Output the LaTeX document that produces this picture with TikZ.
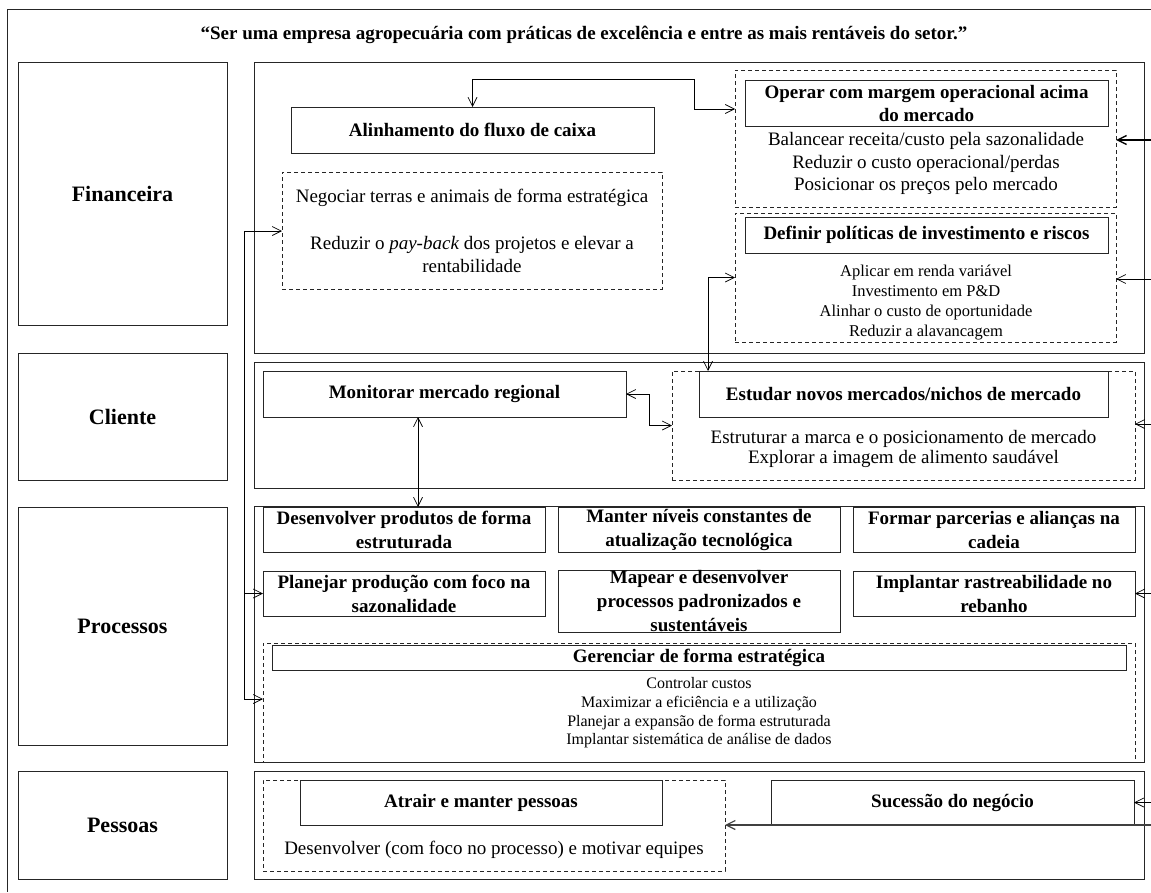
\documentclass[tikz,border=0pt]{standalone}
\usepackage{fontspec}
\setmainfont{Liberation Serif}
\usetikzlibrary{arrows.meta}
\tikzset{every node/.style={inner sep=0pt,outer sep=0pt}}
\tikzset{lbl/.style={rectangle,draw=black!85,line width=0.8pt,minimum width=209pt,font=\fontsize{22}{26}\selectfont\bfseries}}
\tikzset{pan/.style={rectangle,draw=black!85,line width=0.8pt,minimum width=890pt}}
\tikzset{bx/.style={rectangle,draw=black!85,line width=0.8pt,align=center,font=\fontsize{19}{24}\selectfont\bfseries}}
\tikzset{grp/.style={rectangle,draw=black!85,line width=0.7pt,dash pattern=on 4pt off 3pt}}
\tikzset{txt/.style={align=center,font=\fontsize{19}{22.5}\selectfont}}
\tikzset{sml/.style={align=center,font=\fontsize{16.5}{20}\selectfont}}

\begin{document}
\begin{tikzpicture}[x=1pt,y=-1pt,>={Straight Barb[length=9pt,width=9pt]},line width=0.7pt]
      \useasboundingbox (0,0) rectangle (1151,892);
      \draw[black!85,line width=0.8pt] (1151,9) -- (7,9) -- (7,892);
      \node[font=\fontsize{19}{23}\selectfont\bfseries] (vis) at (584,35) {“Ser uma empresa agropecuária com práticas de excelência e entre as mais rentáveis do setor.”};

      \node[lbl,minimum height=263pt] (fin) at (122.5,193.5) {Financeira};
      \node[lbl,minimum height=127pt] (cli) at (122.5,416.5) {Cliente};
      \node[lbl,minimum height=238pt] (pro) at (122.5,626) {Processos};
      \node[lbl,minimum height=108pt] (pes) at (122.5,825) {Pessoas};

      \node[pan,minimum height=291pt] (pfin) at (699,207.5) {};
      \node[pan,minimum height=126pt] (pcli) at (699,425) {};
      \node[pan,minimum height=256pt] (ppro) at (699,634) {};
      \node[pan,minimum height=108pt] (ppes) at (699,825) {};

      \node[bx,minimum width=363pt,minimum height=46pt] (alin) at (472.5,130) {Alinhamento do fluxo de caixa};
      \node[grp,txt,minimum width=380pt,minimum height=117pt] (neg) at (472,230.5) {Negociar terras e animais de forma estratégica\\[25pt]Reduzir o \textit{pay-back} dos projetos e elevar a\\rentabilidade};
      \node[grp,minimum width=381pt,minimum height=137pt] (opg) at (925.5,138.5) {};
      \node[bx,minimum width=363pt,minimum height=46pt,font=\fontsize{19}{23}\selectfont\bfseries] (opr) at (926.5,103) {Operar com margem operacional acima\\do mercado};
      \node[txt] (oprl) at (926,163.5) {Balancear receita/custo pela sazonalidade\\Reduzir o custo operacional/perdas\\Posicionar os preços pelo mercado};
      \node[grp,minimum width=381pt,minimum height=129pt] (dfg) at (925.5,277.5) {};
      \node[bx,minimum width=363pt,minimum height=36pt] (dfn) at (926.5,235) {\makebox[326pt][s]{Definir políticas de investimento e riscos}};
      \node[sml] (dfnl) at (926,303) {Aplicar em renda variável\\Investimento em P\&D\\Alinhar o custo de oportunidade\\Reduzir a alavancagem};

      \node[bx,minimum width=363pt,minimum height=46pt] (mon) at (444.5,394) {Monitorar mercado regional};
      \node[grp,minimum width=463pt,minimum height=109pt] (clg) at (903.5,425.5) {};
      \node[bx,minimum width=409pt,minimum height=46pt] (est) at (903.5,394) {Estudar novos mercados/nichos de mercado};
      \node[txt,font=\fontsize{19}{20.5}\selectfont] (estl) at (903.5,449) {Estruturar a marca e o posicionamento de mercado\\Explorar a imagem de alimento saudável};

      \node[bx,minimum width=282pt,minimum height=45pt] (des) at (404,529.5) {Desenvolver produtos de forma\\estruturada};
      \node[bx,minimum width=282pt,minimum height=45pt] (man) at (699,529.5) {Manter níveis constantes de\\atualização tecnológica};
      \node[bx,minimum width=282pt,minimum height=45pt] (for) at (994,529.5) {Formar parcerias e alianças na\\cadeia};
      \node[bx,minimum width=282pt,minimum height=45pt] (pla) at (404,593.5) {Planejar produção com foco na\\sazonalidade};
      \node[bx,minimum width=282pt,minimum height=61pt] (map) at (699,601.5) {Mapear e desenvolver\\processos padronizados e\\sustentáveis};
      \node[bx,minimum width=282pt,minimum height=45pt] (imp) at (994,593.5) {Implantar rastreabilidade no\\rebanho};
      \node[grp,minimum width=872pt,minimum height=119pt] (ger) at (699,702.5) {};
      \node[bx,minimum width=854pt,minimum height=25pt] (gert) at (699,657.5) {Gerenciar de forma estratégica};
      \node[sml,font=\fontsize{16}{18.7}\selectfont] (gerl) at (699,713) {Controlar custos\\Maximizar a eficiência e a utilização\\Planejar a expansão de forma estruturada\\Implantar sistemática de análise de dados};

      \node[grp,minimum width=462pt,minimum height=91pt] (peg) at (494,825.5) {};
      \node[bx,minimum width=362pt,minimum height=45pt] (atr) at (481,802.5) {Atrair e manter pessoas};
      \node[txt] (pesl) at (494,850) {Desenvolver (com foco no processo) e motivar equipes};
      \node[bx,minimum width=363pt,minimum height=45pt] (suc) at (952.5,802.5) {Sucessão do negócio};

      \coordinate (lt) at (244,231);
      \coordinate (lb) at (244,699);
      \coordinate (a1) at (694,79);
      \coordinate (a2) at (735,109);
      \coordinate (m1) at (418,417);
      \coordinate (r1) at (1151,140);
      \coordinate (r2) at (1151,279);
      \coordinate (r3) at (1151,424);
      \coordinate (r4) at (1151,593.5);
      \coordinate (r5) at (1151,802.5);
      \coordinate (r6) at (1151,825);

        \draw[->] (lb) -- (lt) -- (lt -| neg.west);
        \draw[->] (lt |- pla.west) -- (pla.west);
        \draw[->] (lb) -- (lb -| ger.west);
        \draw[<->] (alin.north) |- (a1) |- (a2);
        \draw[<->] ([xshift=9pt]est.north west) |- (dfg.west);
        \draw[<->] (mon.east) -- ++(23,0) |- (clg.west);
        \draw[<->] (m1) -- (m1 |- des.north);
        \draw[->,line width=1.4pt] (r1) -- (r1 -| opg.east);
        \draw[->] (r2) -- (r2 -| dfg.east);
        \draw[->] (r3) -- (r3 -| clg.east);
        \draw[->] (r4) -- (imp.east);
        \draw[->] (r5) -- (suc.east);
        \draw[->,black!75,line width=1.2pt] (r6) -- (r6 -| peg.east);
\end{tikzpicture}
\end{document}
